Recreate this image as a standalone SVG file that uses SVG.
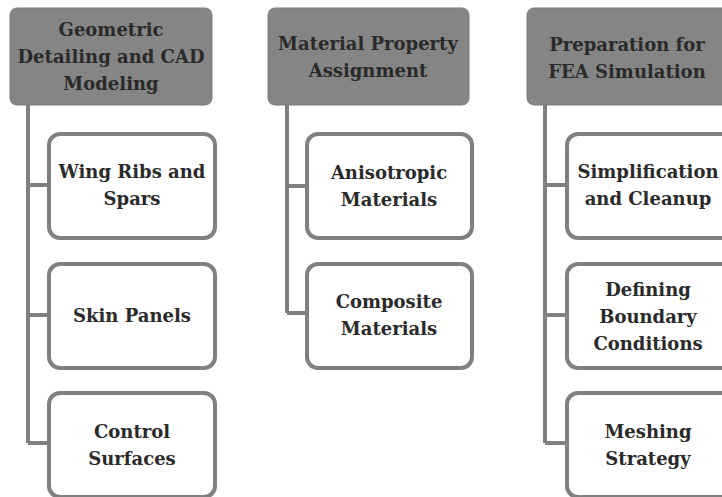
<svg xmlns="http://www.w3.org/2000/svg" width="722" height="497" viewBox="0 0 722 497">
<style>
.hdr{fill:#858585;stroke:#7a7a7a;stroke-width:1}
.box{fill:#ffffff;stroke:#808080;stroke-width:4}
.ln{fill:none;stroke:#808080;stroke-width:4}
text{font-family:"DejaVu Serif","Liberation Serif",serif;font-weight:bold;font-size:18px;fill:#2a2a2a;text-anchor:middle}
</style>
<rect width="722" height="497" fill="#ffffff"/>
<g id="connectors">
<path class="ln" d="M28,105 V443 M28,185 H47 M28,315 H47 M28,443 H47"/>
<path class="ln" d="M287,105 V313 M287,186 H305 M287,313 H305"/>
<path class="ln" d="M545,105 V443 M545,185 H565 M545,315 H565 M545,443 H565"/>
</g>
<g id="h1"><rect class="hdr" x="10" y="8" width="202" height="97" rx="7"/>
<text x="111" y="36">Geometric</text><text x="111" y="63">Detailing and CAD</text><text x="111" y="90">Modeling</text></g>
<g id="c1a"><rect class="box" x="49" y="134" width="166" height="104" rx="11"/>
<text x="132" y="178">Wing Ribs and</text><text x="132" y="205">Spars</text></g>
<g id="c1b"><rect class="box" x="49" y="264" width="166" height="104" rx="11"/>
<text x="132" y="322">Skin Panels</text></g>
<g id="c1c"><rect class="box" x="49" y="393" width="166" height="104" rx="11"/>
<text x="132" y="438">Control</text><text x="132" y="465">Surfaces</text></g>
<g id="h2"><rect class="hdr" x="268" y="8" width="201" height="97" rx="7"/>
<text x="368" y="50">Material Property</text><text x="368" y="77">Assignment</text></g>
<g id="c2a"><rect class="box" x="307" y="134" width="165" height="104" rx="11"/>
<text x="389" y="179">Anisotropic</text><text x="389" y="206">Materials</text></g>
<g id="c2b"><rect class="box" x="307" y="264" width="165" height="104" rx="11"/>
<text x="389" y="308">Composite</text><text x="389" y="335">Materials</text></g>
<g id="h3"><rect class="hdr" x="527" y="8" width="202" height="97" rx="7"/>
<text x="627" y="51">Preparation for</text><text x="627" y="78">FEA Simulation</text></g>
<g id="c3a"><rect class="box" x="567" y="134" width="166" height="104" rx="11"/>
<text x="648" y="178">Simplification</text><text x="648" y="205">and Cleanup</text></g>
<g id="c3b"><rect class="box" x="567" y="264" width="166" height="104" rx="11"/>
<text x="648" y="296">Defining</text><text x="648" y="323">Boundary</text><text x="648" y="350">Conditions</text></g>
<g id="c3c"><rect class="box" x="567" y="393" width="166" height="104" rx="11"/>
<text x="648" y="438">Meshing</text><text x="648" y="465">Strategy</text></g>
</svg>
